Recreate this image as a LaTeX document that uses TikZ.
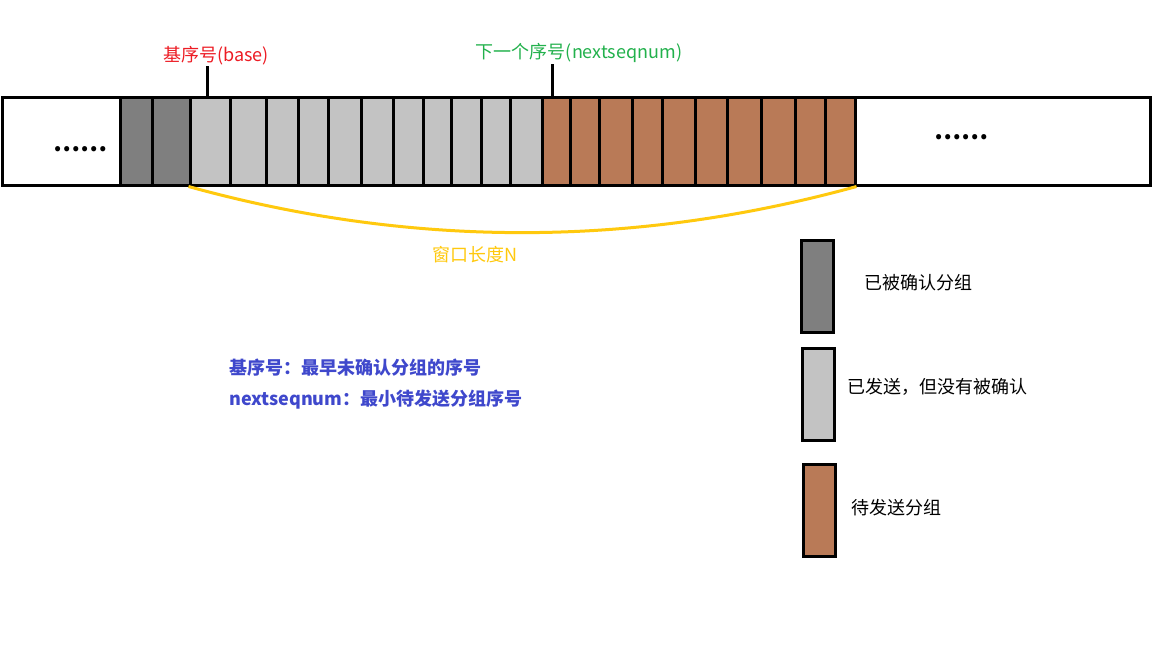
\documentclass[tikz,border=0pt]{standalone}
\usepackage{fontspec}
\setmainfont{Noto Sans CJK SC}
\newfontfamily\cjk{Noto Sans CJK SC}
\definecolor{dk}{HTML}{7F7F7F}
\definecolor{lt}{HTML}{C3C3C3}
\definecolor{br}{HTML}{B97A57}
\definecolor{rd}{HTML}{ED1C24}
\definecolor{gn}{HTML}{22B14C}
\definecolor{yl}{HTML}{FFC90E}
\definecolor{bl}{HTML}{3F48CC}
\tikzset{
  cell/.style={draw=black, line width=3pt, inner sep=0pt, minimum height=88pt, rectangle},
  legbox/.style={draw=black, line width=3pt, inner sep=0pt, minimum width=32pt, minimum height=92pt, rectangle},
  tick/.style={draw=black, line width=3pt},
  win/.style={draw=yl, line width=3pt},
  lbl/.style={font=\cjk\fontsize{18}{21}\selectfont, inner sep=0pt},
  legtxt/.style={font=\cjk\fontsize{18}{21}\selectfont, inner sep=0pt, text=black},
  note/.style={font=\cjk\bfseries\fontsize{18}{21}\selectfont, inner sep=0pt, text=bl, anchor=west},
  dots/.style={font=\cjk\bfseries\fontsize{24}{24}\selectfont, inner sep=0pt}
}
\begin{document}
\begin{tikzpicture}[x=1pt,y=-1pt]
\useasboundingbox[fill=white] (0,0) rectangle (1152,648);
% strip cells
\foreach \a/\b/\c [count=\i] in {2/120/white,120/152/dk,152/190/dk,190/230/lt,230/266/lt,266/298/lt,298/328/lt,328/361/lt,361/393/lt,393/423/lt,423/451/lt,451/481/lt,481/510/lt,510/542/lt,542/570/br,570/599/br,599/632/br,632/662/br,662/695/br,695/727/br,727/761/br,761/795/br,795/825/br,825/855/br,855/1150/white}
  \node[cell, fill=\c, minimum width={\b-\a}] (c\i) at ({(\a+\b)/2},141) {};
\node[dots] (ldots) at (80,149) {……};
\node[dots] (rdots) at (961,137) {……};
% labels and ticks
\node[lbl, text=rd] (base) at (216,56) {基序号(base)};
\node[lbl, text=gn] (next) at (579,53) {下一个序号(nextseqnum)};
\coordinate (bt1) at (207,66);
\coordinate (bt2) at (207,97);
\coordinate (nt1) at (552,64);
\coordinate (nt2) at (552,97);
\draw[tick] (bt1) -- (bt2);
\draw[tick] (nt1) -- (nt2);
% window curve
\draw[win] (c4.south west) .. controls (411,248) and (633,248) .. (c24.south east);
\node[lbl, text=yl] (winlbl) at (475,255) {窗口长度N};
% notes
\node[note] (n1) at (229,368) {基序号：最早未确认分组的序号};
\node[note] (n2) at (229,400) {nextseqnum：最小待发送分组序号};
% legend
\node[legbox, fill=dk] (l1) at (817,286) {};
\node[legbox, fill=lt] (l2) at (818,394) {};
\node[legbox, fill=br] (l3) at (819,510) {};
\node[legtxt] (t1) at (918,283) {已被确认分组};
\node[legtxt] (t2) at (937,387) {已发送，但没有被确认};
\node[legtxt] (t3) at (896,508) {待发送分组};
\end{tikzpicture}
\end{document}
